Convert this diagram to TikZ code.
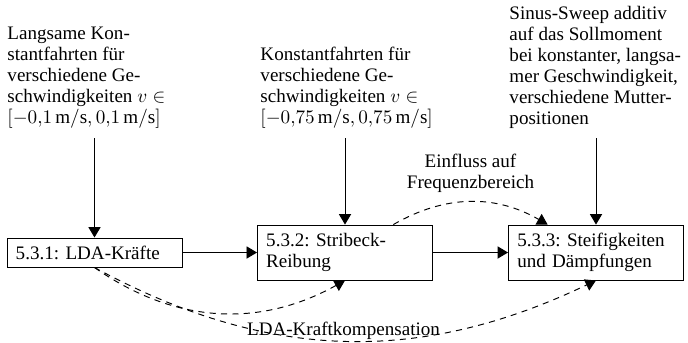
\documentclass[tikz,border=0pt]{standalone}
\usepackage{fontspec}
\setmainfont{Liberation Serif}
\usetikzlibrary{arrows.meta}
\frenchspacing
\begin{document}
\begin{tikzpicture}[x=0.5714pt,y=-0.5714pt,
  font=\fontsize{10.9}{12}\selectfont,
  line width=0.55pt,
  >={Triangle[length=6pt,width=7pt]},
  box/.style={draw, fill=white, text width=90pt, align=left, inner xsep=5pt, inner ysep=2pt, minimum width=100pt, anchor=center},
  desc/.style={align=left, inner xsep=0pt, inner ysep=5pt, anchor=south west},
  dashline/.style={dashed, dash pattern=on 3.5pt off 3pt}
]
\useasboundingbox (0,0) rectangle (688,342);

\node[box, minimum height=16.6pt] (b1) at (94.5,252.5) {5.3.1: LDA-Kräfte};
\node[box, minimum height=31.4pt] (b2) at (345,252.5) {5.3.2: Stribeck-\\Reibung};
\node[box, minimum height=31.4pt] (b3) at (596,252.5) {5.3.3: Steifigkeiten\\und Dämpfungen};

\node[desc] (t1) at (7,138) {Langsame Kon-\\stantfahrten für\\verschiedene Ge-\\schwindigkeiten $v\in$\\$[-0{,}1\,\mathrm{m/s}, 0{,}1\,\mathrm{m/s}]$};
\node[desc] (t2) at (260,138) {Konstantfahrten für\\verschiedene Ge-\\schwindigkeiten $v\in$\\$[-0{,}75\,\mathrm{m/s}, 0{,}75\,\mathrm{m/s}]$};
\node[desc] (t3) at (509,138) {Sinus-Sweep additiv\\auf das Sollmoment\\bei konstanter, langsa-\\mer Geschwindigkeit,\\verschiedene Mutter-\\positionen};

\draw[->] (t1.south -| b1.north) -- (b1.north);
\draw[->] (t2.south -| b2.north) -- (b2.north);
\draw[->] (t3.south -| b3.north) -- (b3.north);

\draw[->] (b1) -- (b2);
\draw[->] (b2) -- (b3);

\draw[dashline,->] (b2) to[bend left=30] node[above, align=center, yshift=2pt] {Einfluss auf\\Frequenzbereich} (b3);
\draw[dashline,->] (b1.south) to[bend right=32] (b2.south);
\draw[dashline,->] (b1.south) to[bend right=27] node[anchor=base, yshift=3pt] {LDA-Kraftkompensation} (b3.south);
\end{tikzpicture}
\end{document}
